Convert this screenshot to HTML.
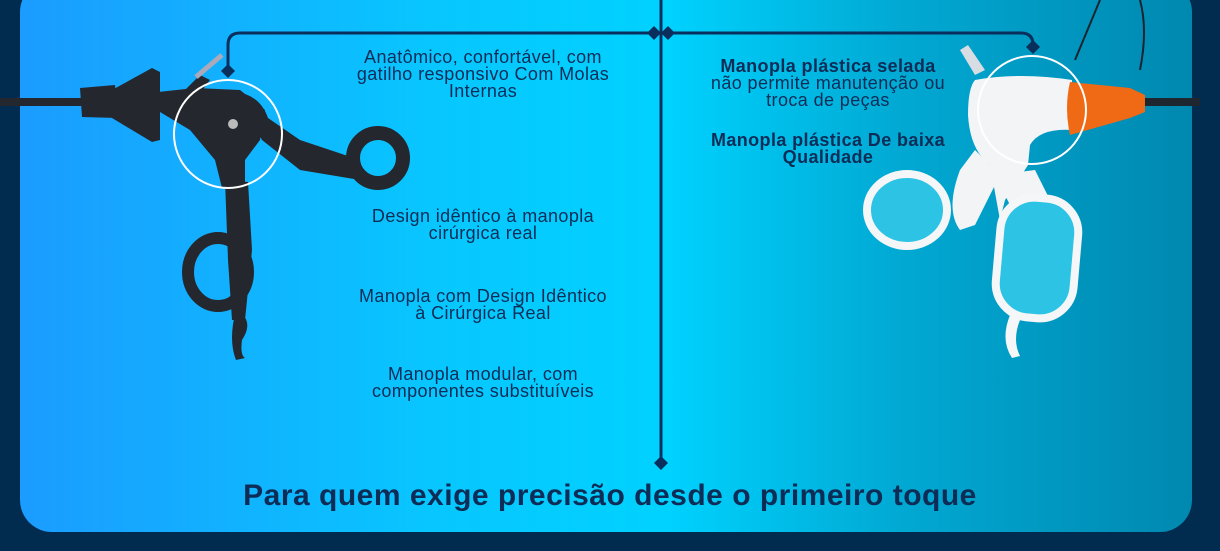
<!DOCTYPE html>
<html><head><meta charset="utf-8"><style>
html,body{margin:0;padding:0;width:1220px;height:551px;overflow:hidden;background:#022b50;font-family:"Liberation Sans",sans-serif}
.panel{position:absolute;left:20px;top:-20px;width:1172px;height:552px;border-radius:32px;background:linear-gradient(90deg,#1b9cff 0%,#08c6ff 35%,#00d2ff 55%,#01a9d3 75%,#0088b0 100%);overflow:hidden}
svg{position:absolute;left:0;top:0}
.t{position:absolute;color:#0d2d57;font-size:18px;letter-spacing:0.4px;line-height:17px;text-align:center;white-space:nowrap}
.b{font-weight:bold}
</style></head><body>
<div class="panel"></div>
<svg width="1220" height="551" viewBox="0 0 1220 551">
 <g fill="none" stroke="#0b2f5c" stroke-width="3">
  <path d="M661 0 V463"/>
  <path d="M228 70 V45 Q228 33 240 33 H1021 Q1033 33 1033 45 V47"/>
 </g>
 <g fill="#0b2f5c">
  <path d="M228 64 l7 7 l-7 7 l-7 -7z"/>
  <path d="M1033 40 l7 7 l-7 7 l-7 -7z"/>
  <path d="M647 33 l7 -7 l7 7 l-7 7z"/>
  <path d="M661 33 l7 -7 l7 7 l-7 7z"/>
  <path d="M661 456 l7 7 l-7 7 l-7 -7z"/>
 </g>
 <g fill="#25272e" stroke="none">
  <rect x="0" y="98" width="90" height="8"/>
  <path d="M80 88 L115 85 L118 118 L82 117z"/>
  <path d="M112 90 L152 68 L160 72 L160 140 L152 142 L112 118z"/>
  <path d="M158 92 L195 88 L240 90 L265 110 L260 140 L245 160 L245 185 L222 188 L215 160 L190 130 L160 112z"/>
  <path d="M180 95 L200 75 L210 80 L195 100z"/>
  <path d="M236 92 Q260 95 268 118 L300 140 L360 160 L360 180 L300 170 L262 140z"/>
  <path d="M225 180 L248 182 L252 250 L245 320 L232 320 L228 260z"/>
  <path d="M236 310 Q255 320 242 340 Q240 355 245 358 L236 360 Q228 340 236 310z"/>
 </g>
 <circle cx="378" cy="158" r="25" fill="none" stroke="#25272e" stroke-width="14"/>
 <ellipse cx="218" cy="272" rx="30" ry="34" fill="none" stroke="#25272e" stroke-width="12"/>
 <path d="M196 77 L222 55" stroke="#aab" stroke-width="5"/>
 <circle cx="233" cy="124" r="5" fill="#bbb"/>
 <circle cx="228" cy="134" r="54" fill="none" stroke="#fff" stroke-width="2"/>
 <path d="M1075 60 L1100 0 M1140 70 Q1148 30 1140 0" stroke="#1b2430" stroke-width="2" fill="none"/>
 <rect x="1140" y="98" width="60" height="8" fill="#1e2630"/>
 <path d="M960 50 L975 75 L985 70 L968 45z" fill="#d8dde3"/>
 <g fill="#f2f4f6">
  <path d="M975 80 Q1020 72 1072 80 L1072 130 Q1040 128 1030 145 L1028 165 L1012 190 L1005 200 L1000 220 L990 165 Q970 150 968 115 Q968 88 975 80z"/>
  <path d="M975 150 L1000 175 L975 225 L960 230 Q945 210 960 170z"/>
  <path d="M995 175 L1035 170 L1050 200 L1010 205z"/>
 </g>
 <ellipse cx="907" cy="210" rx="40" ry="36" fill="#2cc3e4" stroke="#f4f6f8" stroke-width="8"/>
 <rect x="998" y="198" width="78" height="120" rx="34" fill="#2cc3e4" stroke="#f4f6f8" stroke-width="8" transform="rotate(5 1037 258)"/>
 <path d="M1010 315 Q1000 340 1012 358 L1020 356 Q1012 340 1020 320z" fill="#f4f6f8"/>
 <path d="M1070 82 L1130 88 L1145 95 L1145 112 L1130 118 L1070 135 Q1064 108 1070 82z" fill="#f06a16"/>
 <circle cx="1032" cy="110" r="54" fill="none" stroke="#fff" stroke-width="2"/>
</svg>
<div class="t" style="left:483px;top:49px;transform:translateX(-50%)">Anatômico, confortável, com<br>gatilho responsivo Com Molas<br>Internas</div>
<div class="t" style="left:483px;top:208px;transform:translateX(-50%)">Design idêntico à manopla<br>cirúrgica real</div>
<div class="t" style="left:483px;top:288px;transform:translateX(-50%)">Manopla com Design Idêntico<br>à Cirúrgica Real</div>
<div class="t" style="left:483px;top:366px;transform:translateX(-50%)">Manopla modular, com<br>componentes substituíveis</div>
<div class="t" style="left:828px;top:58px;transform:translateX(-50%)"><span class="b">Manopla plástica selada</span><br>não permite manutenção ou<br>troca de peças</div>
<div class="t b" style="left:828px;top:132px;transform:translateX(-50%)">Manopla plástica De baixa<br>Qualidade</div>
<div class="t b" style="left:610px;top:479px;transform:translateX(-50%);font-size:30px;letter-spacing:0.5px;line-height:34px;color:#0d2d57">Para quem exige precisão desde o primeiro toque</div>
</body></html>
